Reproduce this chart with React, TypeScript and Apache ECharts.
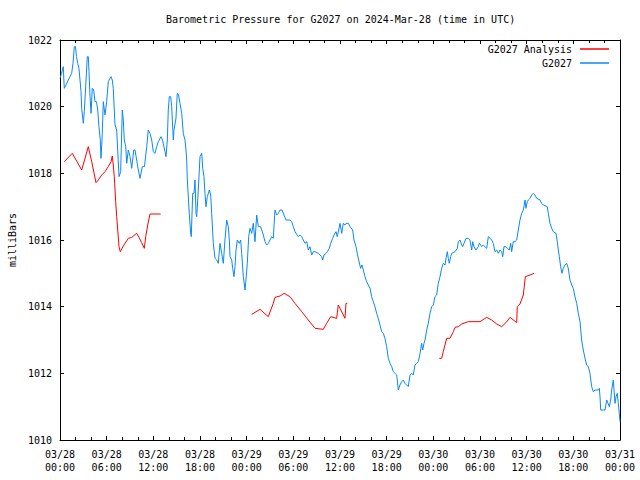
import React, { useEffect, useRef } from "react";
import * as echarts from "echarts";

const titleText = "Barometric Pressure for G2027 on 2024-Mar-28 (time in UTC)";
const yAxisName = "milliBars";
const analysisName = "G2027 Analysis";
const stationName = "G2027";

// x tick labels, every 6 hours from 03/28 00:00 (hours since start)
const xTickLabels = [
  "03/28\n00:00", "03/28\n06:00", "03/28\n12:00", "03/28\n18:00",
  "03/29\n00:00", "03/29\n06:00", "03/29\n12:00", "03/29\n18:00",
  "03/30\n00:00", "03/30\n06:00", "03/30\n12:00", "03/30\n18:00",
  "03/31\n00:00",
];

// Station observations: hours since 03/28 00:00 UTC, and pressure (mb)
const blueHours = [
  0, 0.19, 0.42, 0.55, 0.77, 1.07, 1.5, 1.67, 1.84, 1.99, 2.12, 2.28, 2.44, 2.57, 2.7, 2.79,
  3.0, 3.12, 3.3, 3.51, 3.64, 3.73, 3.86, 3.99, 4.15, 4.33, 4.5, 4.69, 4.85, 5.01, 5.18, 5.27,
  5.4, 5.57, 5.79, 6.0, 6.21, 6.43, 6.56, 6.72, 6.85, 7.07, 7.29, 7.42, 7.59, 7.8, 8.01, 8.14,
  8.27, 8.45, 8.58, 8.78, 9.0, 9.22, 9.48, 9.64, 9.86, 10.07, 10.29, 10.58, 10.86, 11.15, 11.35,
  11.57, 11.79, 12.0, 12.21, 12.43, 12.64, 12.99, 13.18, 13.5, 13.63, 13.8, 13.92, 14.05, 14.23,
  14.36, 14.57, 14.66, 14.91, 15.08, 15.24, 15.43, 15.65, 15.85, 16.07, 16.2, 16.29, 16.37,
  16.62, 16.8, 16.88, 17.06, 17.23, 17.36, 17.49, 17.58, 17.78, 18.0, 18.22, 18.35, 18.51,
  18.64, 18.77, 18.94, 19.2, 19.38, 19.5, 19.71, 19.93, 20.15, 20.35, 20.57, 20.79, 21.0,
  21.21, 21.43, 21.64, 21.77, 21.86, 22.08, 22.2, 22.37, 22.5, 22.63, 22.8, 23.05, 23.23,
  23.36, 23.57, 23.79, 23.91, 24.08, 24.26, 24.43, 24.65, 24.85, 25.07, 25.29, 25.5, 25.8,
  26.14, 26.36, 26.57, 26.78, 27.0, 27.22, 27.42, 27.64, 27.86, 28.07, 28.29, 28.54, 28.8,
  29.06, 29.57, 29.79, 30.0, 30.21, 30.64, 30.86, 31.08, 31.28, 31.5, 31.72, 31.92, 32.14,
  32.36, 32.57, 32.79, 33.21, 33.43, 33.65, 33.77, 33.94, 34.2, 34.37, 34.62, 34.8, 35.06,
  35.23, 35.49, 35.65, 35.83, 36.0, 36.22, 36.42, 36.64, 36.77, 37.07, 37.29, 37.63, 37.8,
  38.06, 38.22, 38.4, 38.65, 38.83, 39.0, 39.21, 39.43, 39.64, 39.86, 40.07, 40.28, 40.5,
  40.71, 40.92, 41.14, 41.36, 41.57, 41.78, 42.0, 42.21, 42.43, 42.65, 42.85, 43.07, 43.29,
  43.5, 43.71, 43.93, 44.14, 44.36, 44.57, 44.78, 45.0, 45.22, 45.42, 45.64, 45.86, 46.07,
  46.29, 46.5, 46.63, 46.8, 46.93, 47.15, 47.35, 47.57, 47.79, 48.0, 48.21, 48.43, 48.64,
  48.86, 49.07, 49.28, 49.5, 49.63, 49.8, 49.92, 50.05, 50.23, 50.36, 50.79, 51.08, 51.21,
  51.43, 51.65, 51.77, 51.94, 52.2, 52.5, 52.71, 52.93, 53.06, 53.23, 53.49, 53.78, 53.91,
  54.09, 54.22, 54.42, 54.64, 54.86, 55.07, 55.29, 55.5, 55.71, 55.93, 56.15, 56.35, 56.57,
  56.79, 56.92, 57.08, 57.34, 57.51, 57.77, 57.95, 58.07, 58.28, 58.5, 58.72, 58.92, 59.14,
  59.36, 59.57, 59.79, 59.91, 60.08, 60.21, 60.43, 60.65, 60.85, 61.07, 61.29, 61.71, 61.93,
  62.14, 62.65, 62.78, 63.0, 63.22, 63.42, 63.77, 63.94, 64.07, 64.2, 64.37, 64.54, 64.71,
  64.93, 65.15, 65.35, 65.57, 65.79, 66.0, 66.21, 66.43, 66.64, 66.86, 67.07, 67.28, 67.5,
  67.72, 67.92, 68.14, 68.36, 68.57, 68.79, 69.21, 69.34, 69.43, 69.52, 69.81, 70.07, 70.29,
  70.46, 70.63, 70.8, 70.93, 71.14, 71.36, 71.49, 71.65, 71.78, 71.91, 72.0,
];
const blueValues = [
  1020.85, 1021.0, 1021.2, 1020.55, 1020.65, 1020.8, 1021.0, 1021.3, 1021.8, 1021.8, 1021.5,
  1021.3, 1021.15, 1020.8, 1020.45, 1019.95, 1019.5, 1019.85, 1020.6, 1021.5, 1021.5, 1021.05,
  1020.3, 1019.8, 1020.55, 1020.5, 1020.15, 1020.15, 1019.9, 1019.4, 1019.0, 1018.45, 1019.0,
  1020.15, 1019.75, 1020.15, 1020.75, 1020.85, 1020.9, 1020.8, 1020.55, 1019.45, 1019.3,
  1018.7, 1017.9, 1018.05, 1019.9, 1019.6, 1019.0, 1018.8, 1018.3, 1018.7, 1018.5, 1018.15,
  1018.7, 1018.7, 1018.4, 1018.1, 1017.85, 1018.2, 1018.2, 1018.8, 1019.3, 1019.2, 1019.0,
  1018.65, 1018.6, 1018.8, 1018.95, 1019.1, 1019.0, 1018.65, 1018.5, 1019.0, 1019.9, 1020.3,
  1020.3, 1020.0, 1019.0, 1019.3, 1019.65, 1020.4, 1020.35, 1020.1, 1019.8, 1019.2, 1019.0,
  1018.7, 1018.4, 1017.8, 1016.8, 1016.2, 1016.1, 1017.4, 1017.4, 1017.8, 1016.8, 1016.7,
  1017.5, 1018.5, 1018.6, 1018.15, 1017.9, 1017.4, 1017.0, 1017.3, 1017.5, 1017.35, 1016.8,
  1015.9, 1015.45, 1015.4, 1015.3, 1015.9, 1015.6, 1015.3, 1016.0, 1016.6, 1016.4, 1016.0,
  1015.5, 1015.4, 1015.15, 1014.9, 1015.2, 1015.7, 1016.0, 1015.9, 1016.0, 1015.6, 1014.9,
  1014.5, 1014.8, 1015.3, 1016.1, 1016.35, 1016.2, 1016.5, 1015.95, 1016.75, 1016.4, 1016.4,
  1016.15, 1015.95, 1015.85, 1015.9, 1016.0, 1016.1, 1016.05, 1016.9, 1016.75, 1016.8,
  1016.9, 1016.9, 1016.75, 1016.6, 1016.6, 1016.55, 1016.4, 1016.25, 1016.1, 1016.15, 1016.1,
  1016.0, 1015.9, 1015.95, 1015.7, 1015.8, 1015.55, 1015.65, 1015.65, 1015.6, 1015.55, 1015.5,
  1015.4, 1015.55, 1015.6, 1015.65, 1015.75, 1015.9, 1016.05, 1016.15, 1016.25, 1016.1,
  1016.3, 1016.5, 1016.2, 1016.5, 1016.45, 1016.5, 1016.5, 1016.4, 1016.3, 1016.0, 1015.8,
  1015.6, 1015.4, 1015.15, 1015.25, 1015.1, 1014.9, 1014.75, 1014.65, 1014.55, 1014.3,
  1014.15, 1014.0, 1013.8, 1013.65, 1013.45, 1013.25, 1013.2, 1013.05, 1012.8, 1012.45,
  1012.3, 1012.2, 1012.05, 1012.0, 1011.95, 1011.5, 1011.65, 1011.75, 1011.8, 1011.7,
  1011.65, 1011.6, 1011.95, 1012.0, 1011.95, 1012.25, 1012.3, 1012.35, 1012.6, 1012.9,
  1012.7, 1012.9, 1013.0, 1013.3, 1013.5, 1013.8, 1014.0, 1014.05, 1014.3, 1014.35, 1014.7,
  1014.9, 1015.15, 1015.3, 1015.25, 1015.45, 1015.65, 1015.45, 1015.3, 1015.5, 1015.6,
  1015.65, 1015.75, 1015.95, 1016.0, 1015.85, 1015.8, 1015.9, 1016.05, 1016.05, 1016.0,
  1015.7, 1015.95, 1015.8, 1015.7, 1015.8, 1015.9, 1015.85, 1015.8, 1015.85, 1015.8, 1015.75,
  1016.1, 1016.05, 1016.0, 1015.9, 1015.65, 1015.7, 1015.6, 1015.7, 1015.65, 1015.5, 1015.8,
  1015.8, 1015.75, 1015.7, 1015.9, 1015.65, 1015.95, 1015.95, 1016.0, 1016.3, 1016.6, 1016.8,
  1016.9, 1017.2, 1016.95, 1017.15, 1017.2, 1017.25, 1017.35, 1017.4, 1017.35, 1017.25,
  1017.2, 1017.1, 1017.05, 1017.0, 1016.8, 1016.5, 1016.35, 1016.25, 1016.2, 1015.95, 1015.7,
  1015.5, 1015.2, 1015.0, 1015.15, 1015.25, 1015.3, 1015.15, 1014.8, 1014.65, 1014.55,
  1014.3, 1014.1, 1013.8, 1013.55, 1013.0, 1012.7, 1012.45, 1012.25, 1012.2, 1012.0, 1011.6,
  1011.45, 1011.5, 1011.5, 1011.55, 1011.3, 1010.9, 1010.9, 1010.9, 1011.2, 1011.1, 1011.0,
  1011.2, 1011.5, 1011.8, 1011.1, 1011.3, 1011.4, 1011.1, 1010.8, 1010.55,
];

// Analysis: hours since 03/28 00:00 UTC and pressure (mb); null = gap
const redHours = [
  0.55, 1.58, 2.79, 3.64, 4.08, 4.63, 4.92, 5.36, 5.79, 6.21, 6.56, 6.72, 6.85, 6.98, 7.16,
  7.29, 7.42, 7.59, 7.75, 8.14, 8.78, 9.22, 9.86, 10.16, 10.5, 10.84, 11.02, 11.28, 11.57,
  12.95,
  18.0,
  24.65, 25.71, 26.78, 27.42, 27.64, 28.29, 28.8, 29.57, 30.21, 31.08, 31.92, 32.79, 33.85,
  34.29, 34.8, 35.57, 35.78, 36.0, 36.64, 36.77, 36.94,
  42.0,
  48.77, 49.07, 49.28, 49.72, 50.14, 50.57, 50.79, 51.21, 51.65, 52.5, 54.0, 54.86, 55.5,
  56.15, 56.79, 57.34, 57.86, 58.72, 58.79, 59.14, 59.57, 59.83, 60.43, 60.94,
];
const redValues = [
  1018.35, 1018.6, 1018.1, 1018.8, 1018.35, 1017.72, 1017.8, 1017.95, 1018.05, 1018.2,
  1018.35, 1018.52, 1018.25, 1017.9, 1017.15, 1016.7, 1016.3, 1015.8, 1015.65, 1015.82,
  1016.05, 1016.08, 1016.2, 1016.08, 1015.92, 1015.75, 1016.1, 1016.45, 1016.78, 1016.78,
  null,
  1013.77, 1013.92, 1013.7, 1014.1, 1014.28, 1014.32, 1014.4, 1014.3, 1014.1, 1013.85,
  1013.6, 1013.35, 1013.32, 1013.5, 1013.7, 1013.65, 1014.05, 1013.95, 1013.65, 1014.1,
  1014.1,
  null,
  1012.45, 1012.45, 1012.65, 1013.05, 1013.05, 1013.25, 1013.38, 1013.4, 1013.48, 1013.55,
  1013.55, 1013.68, 1013.6, 1013.48, 1013.4, 1013.52, 1013.68, 1013.52, 1014.0, 1014.08,
  1014.35, 1014.9, 1014.95, 1015.0,
];

const FONT = "'DejaVu Sans Mono', 'Liberation Mono', monospace";
const RED = "#ff0000";
const BLUE = "#0a88f5";

export default function App() {
  const ref = useRef<HTMLDivElement>(null);

  useEffect(() => {
    if (!ref.current) return;
    const chart = echarts.init(ref.current, undefined, { renderer: "svg" });

    const blueData = blueHours.map((h, i) => [h, blueValues[i]]);
    const redData = redHours.map((h, i) => [h, redValues[i] === null ? "-" : redValues[i]]);

    const xCommon = {
      type: "value" as const,
      min: 0,
      max: 72,
      interval: 6,
      axisLine: { show: true, onZero: false, lineStyle: { color: "#000", width: 1 } },
      axisTick: { show: true, inside: true, length: 4, lineStyle: { color: "#000" } },
      minorTick: { show: true, splitNumber: 3, length: 3, lineStyle: { color: "#000" } },
      splitLine: { show: false },
    };
    const yCommon = {
      type: "value" as const,
      min: 1010,
      max: 1022,
      interval: 2,
      axisLine: { show: true, onZero: false, lineStyle: { color: "#000", width: 1 } },
      axisTick: { show: true, inside: true, length: 4, lineStyle: { color: "#000" } },
      splitLine: { show: false },
    };

    chart.setOption({
      animation: false,
      backgroundColor: "#fff",
      textStyle: { fontFamily: FONT },
      title: {
        text: titleText,
        left: 166,
        top: 14,
        padding: 0,
        textStyle: { fontFamily: FONT, fontSize: 10, fontWeight: "normal", color: "#000" },
      },
      legend: {
        orient: "vertical",
        right: 31,
        top: 44,
        align: "right",
        itemWidth: 29,
        itemHeight: 1.5,
        itemGap: 4,
        icon: "rect",
        padding: 0,
        textStyle: { fontFamily: FONT, fontSize: 10, color: "#000", padding: [0, 3, 0, 0] },
        data: [
          { name: analysisName, itemStyle: { color: RED } },
          { name: stationName, itemStyle: { color: BLUE } },
        ],
      },
      grid: {
        left: 60,
        right: 20,
        top: 40,
        bottom: 40,
        containLabel: false,
        outerBoundsMode: "none",
      },
      xAxis: [
        {
          ...xCommon,
          position: "bottom",
          axisLabel: {
            show: true,
            margin: 8,
            fontFamily: FONT,
            fontSize: 10,
            lineHeight: 13,
            color: "#000",
            formatter: (v: number) => xTickLabels[Math.round(v / 6)] ?? "",
          },
        },
        { ...xCommon, position: "top", axisLabel: { show: false } },
      ],
      yAxis: [
        {
          ...yCommon,
          position: "left",
          name: yAxisName,
          nameLocation: "middle",
          nameGap: 43,
          nameRotate: 90,
          nameTextStyle: { fontFamily: FONT, fontSize: 10, color: "#000" },
          axisLabel: {
            show: true,
            margin: 8,
            fontFamily: FONT,
            fontSize: 10,
            color: "#000",
            formatter: (v: number) => String(v),
          },
        },
        { ...yCommon, position: "right", axisLabel: { show: false } },
      ],
      series: [
        {
          name: analysisName,
          type: "line",
          xAxisIndex: 0,
          yAxisIndex: 0,
          data: redData,
          symbol: "none",
          connectNulls: false,
          lineStyle: { color: RED, width: 1 },
          itemStyle: { color: RED },
          z: 3,
        },
        {
          name: stationName,
          type: "line",
          xAxisIndex: 0,
          yAxisIndex: 0,
          data: blueData,
          symbol: "none",
          lineStyle: { color: BLUE, width: 1 },
          itemStyle: { color: BLUE },
          z: 2,
        },
      ],
    });

    return () => chart.dispose();
  }, []);

  return (
    <div
      ref={ref}
      style={{ position: "fixed", left: 0, top: 0, width: 640, height: 480, background: "#fff" }}
    />
  );
}
